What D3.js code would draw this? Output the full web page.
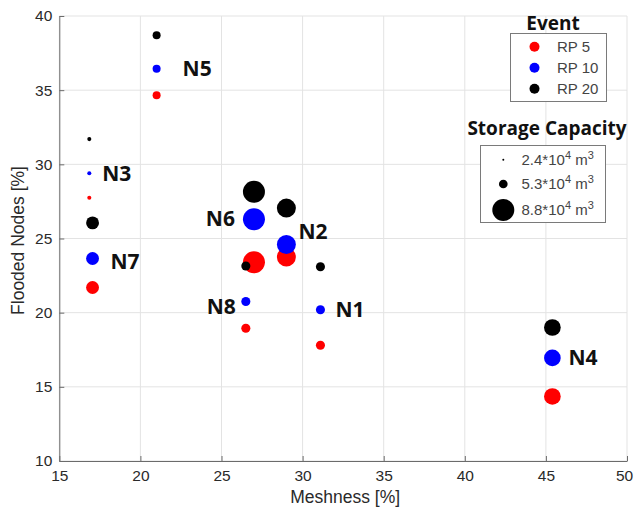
<!DOCTYPE html>
<html>
<head>
<meta charset="utf-8">
<script src="https://cdn.jsdelivr.net/npm/d3@7"></script>
<style>
  body { margin: 0; background: #fff; }
  text { font-family: "Liberation Sans", Arial, sans-serif; }
</style>
</head>
<body>
<script>
// data
const nodes = ["N1", "N2", "N3", "N4", "N5", "N6", "N7", "N8"];
const meshness = [31.1, 29.0, 16.85, 45.4, 21.0, 27.0, 17.05, 26.5];
const rp5 = [17.8, 23.75, 27.75, 14.35, 34.65, 23.4, 21.7, 18.95];
const rp10 = [20.2, 24.6, 29.4, 16.95, 36.45, 26.3, 23.65, 20.75];
const rp20 = [23.1, 27.05, 31.7, 19.0, 38.7, 28.15, 26.05, 23.15];
const capacity = [5.4, 8.0, 3.3, 7.4, 5.0, 8.8, 6.4, 5.4];

const events = ["RP 5", "RP 10", "RP 20"];
const eventColors = ["#ff0000", "#0000ff", "#000000"];
const capLegend = ["2.4", "5.3", "8.8"];

const xTicks = [15, 20, 25, 30, 35, 40, 45, 50];
const yTicks = [10, 15, 20, 25, 30, 35, 40];

const w = 634, h = 517;
const pLeft = 59.3, pRight = 627, pTop = 16, pBottom = 461;

const svg = d3.select("body").append("svg")
  .attr("width", w)
  .attr("height", h);

const x = d3.scaleLinear().domain([15, 50]).range([pLeft, pRight]);
const y = d3.scaleLinear().domain([10, 40]).range([pBottom, pTop]);
const r = d3.scaleLinear().domain([2.4, 5.3, 8.8]).range([1, 4.35, 11]);

// grid
svg.append("g").selectAll("line")
  .data(xTicks).enter().append("line")
  .attr("x1", d => x(d)).attr("x2", d => x(d))
  .attr("y1", pTop).attr("y2", pBottom)
  .attr("stroke", "#e3e3e3");
svg.append("g").selectAll("line")
  .data(yTicks).enter().append("line")
  .attr("x1", pLeft).attr("x2", pRight)
  .attr("y1", d => y(d)).attr("y2", d => y(d))
  .attr("stroke", "#e3e3e3");

// axes
const xAxis = svg.append("g")
  .attr("transform", "translate(0," + pBottom + ")")
  .call(d3.axisBottom(x).tickValues(xTicks).tickSize(-5).tickPadding(9).tickSizeOuter(0));
const yAxis = svg.append("g")
  .attr("transform", "translate(" + pLeft + ",0)")
  .call(d3.axisLeft(y).tickValues(yTicks).tickSize(-5).tickPadding(7).tickSizeOuter(0));
[xAxis, yAxis].forEach(a => {
  a.select(".domain").attr("stroke", "#6b6b6b");
  a.selectAll(".tick line").attr("stroke", "#6b6b6b");
  a.selectAll(".tick text")
    .attr("fill", "#2a2a2a")
    .style("font-size", "15.5px")
    .style("font-family", "'Liberation Sans', Arial, sans-serif");
});
// keep the last label inside the page
xAxis.selectAll(".tick text").filter(d => d === 50).attr("x", -3);

svg.append("text")
  .attr("x", (pLeft + pRight) / 2 + 2)
  .attr("y", 503)
  .attr("text-anchor", "middle")
  .attr("fill", "#2a2a2a")
  .style("font-size", "17.5px")
  .text("Meshness [%]");

svg.append("text")
  .attr("transform", "translate(24," + ((pTop + pBottom) / 2 + 2) + ") rotate(-90)")
  .attr("text-anchor", "middle")
  .attr("fill", "#2a2a2a")
  .style("font-size", "17.5px")
  .text("Flooded Nodes [%]");

// points
const series = [rp5, rp10, rp20];
series.forEach((vals, i) => {
  svg.append("g").selectAll("circle")
    .data(nodes).enter().append("circle")
    .attr("cx", (d, j) => x(meshness[j]))
    .attr("cy", (d, j) => y(vals[j]))
    .attr("r", (d, j) => r(capacity[j]))
    .attr("fill", eventColors[i]);
});

// node labels
const labelPos = {
  N1: { dx: 15, dy: 0, anchor: "start" },
  N2: { dx: 12, dy: -13, anchor: "start" },
  N3: { dx: 13, dy: 0, anchor: "start" },
  N4: { dx: 16, dy: 0, anchor: "start" },
  N5: { dx: 26, dy: 0, anchor: "start" },
  N6: { dx: -19, dy: -1, anchor: "end" },
  N7: { dx: 18, dy: 3, anchor: "start" },
  N8: { dx: -10, dy: 5, anchor: "end" }
};
svg.append("g").selectAll("text")
  .data(nodes).enter().append("text")
  .attr("x", (d, j) => x(meshness[j]) + labelPos[d].dx)
  .attr("y", (d, j) => y(rp10[j]) + labelPos[d].dy)
  .attr("dy", "0.36em")
  .attr("text-anchor", d => labelPos[d].anchor)
  .attr("fill", "#111")
  .style("font-family", "'Open Sans', Lato, sans-serif")
  .style("font-weight", "700")
  .style("font-size", "21px")
  .text(d => d);

// event legend
svg.append("text")
  .attr("x", 553).attr("y", 30)
  .attr("text-anchor", "middle")
  .attr("fill", "#111")
  .style("font-family", "'Open Sans', Lato, sans-serif")
  .style("font-weight", "700")
  .style("font-size", "19px")
  .text("Event");
svg.append("rect")
  .attr("x", 510.5).attr("y", 33.5)
  .attr("width", 96).attr("height", 68)
  .attr("fill", "#fff")
  .attr("stroke", "#7a7a7a");
const ev = svg.append("g").selectAll("g")
  .data(events).enter().append("g")
  .attr("transform", (d, i) => "translate(0," + (46.7 + i * 21) + ")");
ev.append("circle")
  .attr("cx", 534.5).attr("r", 5)
  .attr("fill", (d, i) => eventColors[i]);
ev.append("text")
  .attr("x", 557).attr("dy", "0.35em")
  .attr("fill", "#444")
  .style("font-size", "15px")
  .text(d => d);

// storage capacity legend
svg.append("text")
  .attr("x", 547).attr("y", 135)
  .attr("text-anchor", "middle")
  .attr("fill", "#111")
  .style("font-family", "'Open Sans', Lato, sans-serif")
  .style("font-weight", "700")
  .style("font-size", "19px")
  .text("Storage Capacity");
svg.append("rect")
  .attr("x", 480.5).attr("y", 145.5)
  .attr("width", 125).attr("height", 77)
  .attr("fill", "#fff")
  .attr("stroke", "#7a7a7a");
const capY = [159.7, 184, 210];
const cl = svg.append("g").selectAll("g")
  .data(capLegend).enter().append("g")
  .attr("transform", (d, i) => "translate(0," + capY[i] + ")");
cl.append("circle")
  .attr("cx", 503.3)
  .attr("r", d => r(+d))
  .attr("fill", "#000");
const ct = cl.append("text")
  .attr("x", 521.5).attr("dy", "0.35em")
  .attr("fill", "#444")
  .style("font-size", "15px");
ct.append("tspan").text(d => d + "*10");
ct.append("tspan").attr("dy", "-6").style("font-size", "11px").text("4");
ct.append("tspan").attr("dy", "6").text(" m");
ct.append("tspan").attr("dy", "-6").style("font-size", "11px").text("3");
</script>
</body>
</html>
